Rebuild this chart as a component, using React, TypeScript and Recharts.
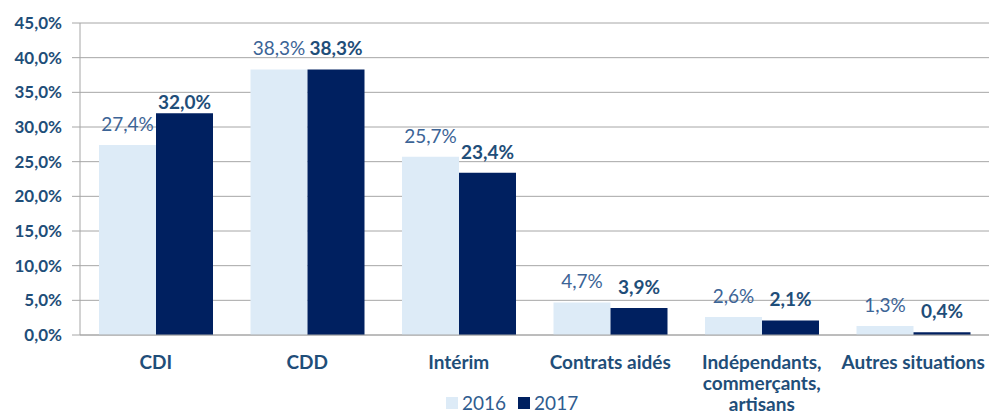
import React from "react";
import { BarChart, Bar, XAxis, YAxis, CartesianGrid, LabelList, Text } from "recharts";

const categories = ["CDI", "CDD", "Intérim", "Contrats aidés", "Indépendants, commerçants, artisans", "Autres situations"];
const values2016 = [27.4, 38.3, 25.7, 4.7, 2.6, 1.3];
const values2017 = [32.0, 38.3, 23.4, 3.9, 2.1, 0.4];
const yTicks = [0, 5, 10, 15, 20, 25, 30, 35, 40, 45];
const seriesNames = ["2016", "2017"];

const data = categories.map((c, i) => ({ name: c, a: values2016[i], b: values2017[i] }));

const FONT = "Lato, 'Open Sans', sans-serif";
const C2016 = "#DDEBF7";
const C2017 = "#002060";
const GRID = "#A6A6A6";
const TXT = "#1F4E79";

const fmt = (v: number) => v.toFixed(1).replace(".", ",") + "%";

const CatTick = (props: any) => {
  const { x, y, payload } = props;
  return (
    <Text
      x={x}
      y={y + 13}
      width={140}
      textAnchor="middle"
      verticalAnchor="start"
      lineHeight={21}
      fontFamily={FONT}
      fontSize={19}
      fontWeight="bold"
      fill={TXT}
    >
      {payload.value}
    </Text>
  );
};

const makeLabel = (bold: boolean, color: string) => (props: any) => {
  const { x, y, width, value, index } = props;
  const off = bold && index === 0 ? 4 : 14;
  return (
    <text
      x={x + width / 2}
      y={y - off}
      textAnchor="middle"
      fontFamily={FONT}
      fontSize={19}
      fontWeight={bold ? "bold" : "normal"}
      fill={color}
    >
      {fmt(Number(value))}
    </text>
  );
};

export default function App() {
  return (
    <div style={{ position: "absolute", left: 0, top: 0, width: 989, height: 413 }}>
      <BarChart
        width={989}
        height={413}
        data={data}
        margin={{ top: 23, right: 0, bottom: 0, left: 0 }}
        barCategoryGap={19}
        barGap={0}
      >
        <CartesianGrid vertical={false} stroke={GRID} strokeWidth={1} />
        <XAxis
          xAxisId="bnd"
          type="number"
          domain={[0, 6]}
          ticks={[0, 1, 2, 3, 4, 5, 6]}
          height={0}
          axisLine={false}
          tick={false}
          tickLine={{ stroke: GRID }}
          tickSize={8}
        />
        <XAxis
          xAxisId="cat"
          dataKey="name"
          height={78}
          interval={0}
          axisLine={{ stroke: GRID }}
          tickLine={false}
          tick={<CatTick />}
        />
        <YAxis
          width={80}
          domain={[0, 45]}
          ticks={yTicks}
          interval={0}
          tickFormatter={fmt}
          axisLine={{ stroke: GRID }}
          tickLine={{ stroke: GRID }}
          tickSize={8}
          tickMargin={10}
          tick={{ fontFamily: FONT, fontSize: 17, fontWeight: "bold", fill: TXT }}
        />
        <Bar xAxisId="cat" dataKey="a" name={seriesNames[0]} fill={C2016} isAnimationActive={false}>
          <LabelList dataKey="a" content={makeLabel(false, "#3C6496")} />
        </Bar>
        <Bar xAxisId="cat" dataKey="b" name={seriesNames[1]} fill={C2017} isAnimationActive={false}>
          <LabelList dataKey="b" content={makeLabel(true, TXT)} />
        </Bar>
      </BarChart>
      <div
        style={{
          position: "absolute",
          left: 446,
          top: 393,
          display: "flex",
          alignItems: "center",
          fontFamily: FONT,
          fontSize: 19,
          color: "#2F5C8F",
          lineHeight: "20px",
          background: "#fff",
        }}
      >
        <span style={{ width: 12, height: 12, background: C2016, display: "inline-block", marginRight: 4 }} />
        <span style={{ marginRight: 12 }}>{seriesNames[0]}</span>
        <span style={{ width: 12, height: 12, background: C2017, display: "inline-block", marginRight: 4 }} />
        <span>{seriesNames[1]}</span>
      </div>
    </div>
  );
}
